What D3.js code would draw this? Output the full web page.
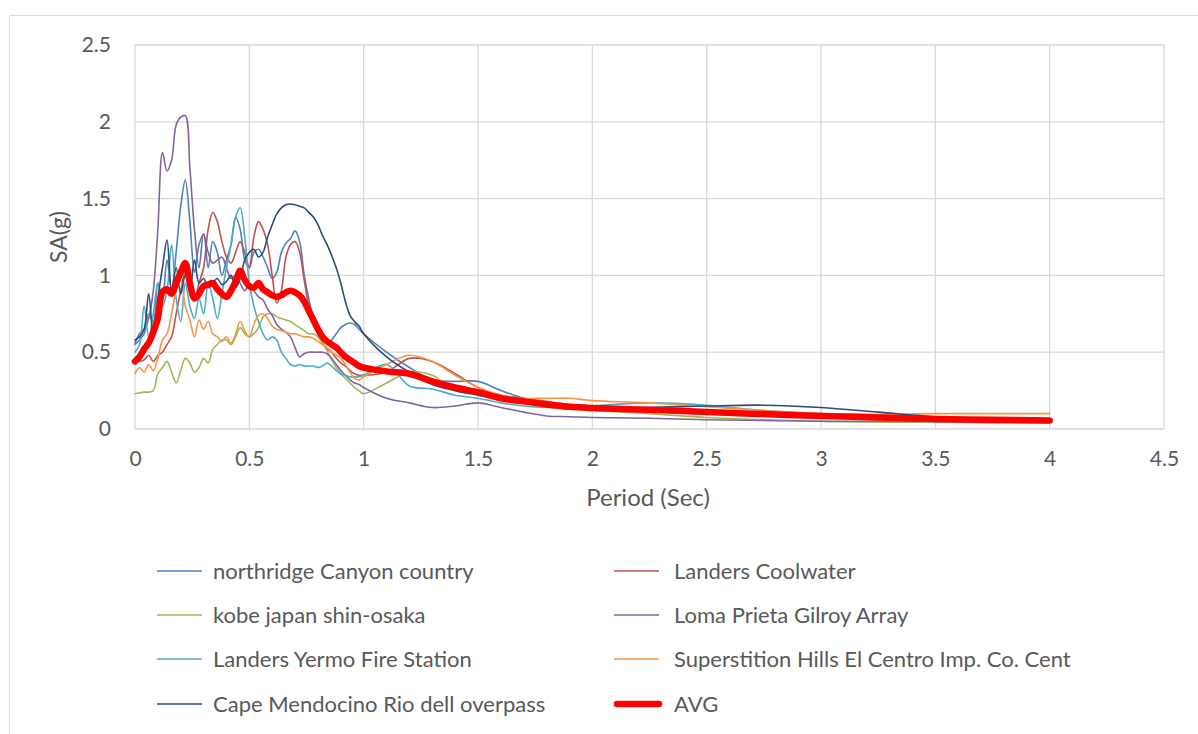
<!DOCTYPE html>
<html>
<head>
<meta charset="utf-8">
<script src="https://cdn.jsdelivr.net/npm/d3@7"></script>
<style>
  html, body { margin: 0; padding: 0; background: #fff; }
  svg { display: block; font-family: Lato, "Open Sans", sans-serif; }
</style>
</head>
<body>
<svg id="chart" width="1198" height="734"></svg>
<script>
// Spectral period (sec) at which each response value is sampled
const periods = [
  0, 0.02, 0.04, 0.06, 0.08, 0.10, 0.12, 0.14, 0.16, 0.18,
  0.20, 0.22, 0.24, 0.26, 0.28, 0.30, 0.32, 0.34, 0.36, 0.38,
  0.40, 0.42, 0.44, 0.46, 0.48, 0.50, 0.52, 0.54, 0.56, 0.58,
  0.60, 0.62, 0.64, 0.66, 0.68, 0.70, 0.72, 0.74, 0.76, 0.78,
  0.80, 0.82, 0.84, 0.86, 0.88, 0.90, 0.92, 0.94, 0.96, 0.98,
  1.00, 1.1, 1.2, 1.3, 1.4, 1.5, 1.6, 1.7, 1.8, 1.9,
  2.0, 2.25, 2.5, 2.75, 3.0, 3.25, 3.5, 3.75, 4.0
];

// Spectral acceleration SA (g) for each ground motion record
const northridge = [
  0.55, 0.58, 0.62, 0.75, 0.70, 0.95, 0.85, 1.10, 0.90, 1.15,
  1.45, 1.62, 1.35, 1.02, 1.20, 1.27, 1.05, 1.22, 1.15, 1.00,
  1.10, 1.20, 1.38, 1.30, 1.10, 1.05, 1.15, 1.17, 1.12, 1.05,
  0.98, 1.02, 1.15, 1.21, 1.24, 1.29, 1.22, 1.00, 0.85, 0.72,
  0.62, 0.58, 0.56, 0.58, 0.62, 0.66, 0.68, 0.69, 0.68, 0.65,
  0.62, 0.50, 0.40, 0.32, 0.31, 0.31, 0.25, 0.20, 0.17, 0.15,
  0.14, 0.12, 0.10, 0.09, 0.08, 0.07, 0.06, 0.055, 0.05
];
const landersCoolwater = [
  0.45, 0.44, 0.45, 0.48, 0.44, 0.48, 0.50, 0.55, 0.60, 0.75,
  0.90, 1.02, 0.95, 0.85, 0.95, 1.05, 1.30, 1.41, 1.35, 1.22,
  1.12, 1.08, 1.15, 1.22, 1.15, 1.05, 1.25, 1.35, 1.30, 1.20,
  1.00, 0.82, 0.90, 1.12, 1.20, 1.22, 1.15, 0.97, 0.80, 0.70,
  0.62, 0.56, 0.52, 0.50, 0.46, 0.43, 0.41, 0.38, 0.36, 0.35,
  0.35, 0.37, 0.46, 0.44, 0.36, 0.27, 0.22, 0.20, 0.18, 0.16,
  0.15, 0.13, 0.11, 0.09, 0.08, 0.07, 0.06, 0.055, 0.05
];
const kobe = [
  0.23, 0.235, 0.24, 0.24, 0.25, 0.36, 0.40, 0.44, 0.37, 0.30,
  0.38, 0.46, 0.43, 0.37, 0.40, 0.46, 0.43, 0.52, 0.55, 0.58,
  0.58, 0.55, 0.60, 0.66, 0.62, 0.60, 0.62, 0.66, 0.73, 0.75,
  0.75, 0.73, 0.72, 0.71, 0.70, 0.68, 0.66, 0.64, 0.62, 0.62,
  0.60, 0.56, 0.51, 0.45, 0.40, 0.36, 0.33, 0.30, 0.27, 0.25,
  0.23, 0.30, 0.37, 0.35, 0.25, 0.23, 0.21, 0.18, 0.15, 0.13,
  0.12, 0.10, 0.075, 0.06, 0.05, 0.045, 0.045, 0.04, 0.04
];
const lomaPrieta = [
  0.56, 0.62, 0.65, 0.72, 0.90, 1.30, 1.80, 1.68, 1.75, 1.98,
  2.03, 2.04, 1.70, 1.30, 1.05, 1.27, 1.15, 1.08, 1.10, 1.12,
  1.05, 0.98, 1.00, 0.95, 0.90, 0.95, 0.90, 0.86, 0.84, 0.78,
  0.74, 0.68, 0.65, 0.63, 0.60, 0.53, 0.47, 0.49, 0.50, 0.50,
  0.50, 0.50, 0.49, 0.46, 0.42, 0.38, 0.35, 0.32, 0.30, 0.29,
  0.27, 0.20, 0.17, 0.14, 0.15, 0.17, 0.14, 0.11, 0.085, 0.08,
  0.075, 0.07, 0.06, 0.055, 0.05, 0.05, 0.048, 0.045, 0.045
];
const landersYermo = [
  0.50, 0.55, 0.80, 0.60, 0.75, 0.95, 0.80, 0.90, 1.20, 0.85,
  0.70, 0.95, 0.80, 0.72, 0.85, 0.75, 0.95, 0.85, 0.72, 0.88,
  1.05, 1.20, 1.38, 1.44, 1.25, 0.95, 0.80, 0.70, 0.62, 0.58,
  0.60, 0.58, 0.50, 0.46, 0.42, 0.41, 0.42, 0.41, 0.41, 0.41,
  0.40, 0.41, 0.43, 0.41, 0.38, 0.36, 0.35, 0.34, 0.34, 0.34,
  0.35, 0.42, 0.28, 0.26, 0.22, 0.20, 0.17, 0.15, 0.14, 0.14,
  0.15, 0.17, 0.155, 0.12, 0.10, 0.08, 0.065, 0.06, 0.05
];
const superstitionHills = [
  0.36, 0.40, 0.37, 0.42, 0.38, 0.46, 0.58, 0.62, 0.75, 0.90,
  0.97, 0.80, 0.71, 0.60, 0.71, 0.65, 0.70, 0.62, 0.60, 0.57,
  0.60, 0.56, 0.62, 0.70, 0.64, 0.60, 0.68, 0.74, 0.75, 0.72,
  0.67, 0.65, 0.64, 0.63, 0.62, 0.62, 0.61, 0.60, 0.60, 0.59,
  0.57, 0.55, 0.53, 0.50, 0.48, 0.46, 0.42, 0.37, 0.33, 0.32,
  0.34, 0.42, 0.48, 0.44, 0.35, 0.27, 0.22, 0.20, 0.20, 0.20,
  0.185, 0.17, 0.145, 0.12, 0.10, 0.095, 0.10, 0.10, 0.10
];
const capeMendocino = [
  0.58, 0.60, 0.65, 0.88, 0.60, 0.85, 1.05, 1.23, 0.90, 1.05,
  0.88, 1.00, 0.90, 1.10, 0.95, 0.98, 0.92, 0.95, 0.98, 0.94,
  0.96, 1.00, 0.92, 0.98, 1.10, 1.15, 1.17, 1.12, 1.15, 1.25,
  1.33, 1.40, 1.44, 1.46, 1.465, 1.46, 1.45, 1.44, 1.41, 1.38,
  1.33, 1.26, 1.20, 1.13, 1.05, 0.95, 0.83, 0.74, 0.70, 0.67,
  0.62, 0.47, 0.37, 0.29, 0.25, 0.22, 0.19, 0.17, 0.16, 0.15,
  0.14, 0.14, 0.15, 0.155, 0.14, 0.11, 0.08, 0.065, 0.055
];
const average = [
  0.44, 0.47, 0.52, 0.56, 0.63, 0.72, 0.89, 0.91, 0.88, 0.95,
  1.02, 1.08, 0.95, 0.85, 0.88, 0.93, 0.94, 0.95, 0.91, 0.88,
  0.86, 0.90, 0.96, 1.03, 0.97, 0.93, 0.92, 0.95, 0.91, 0.89,
  0.87, 0.86, 0.87, 0.89, 0.90, 0.89, 0.87, 0.83, 0.77, 0.71,
  0.65, 0.60, 0.57, 0.55, 0.53, 0.50, 0.47, 0.45, 0.43, 0.41,
  0.40, 0.375, 0.36, 0.31, 0.27, 0.24, 0.20, 0.18, 0.16, 0.145,
  0.137, 0.125, 0.11, 0.097, 0.085, 0.075, 0.065, 0.06, 0.055
];

const seriesNames = [
  "northridge Canyon country", "Landers Coolwater",
  "kobe japan shin-osaka", "Loma Prieta Gilroy Array",
  "Landers Yermo Fire Station", "Superstition Hills El Centro Imp. Co. Cent",
  "Cape Mendocino Rio dell overpass", "AVG"
];
const seriesValues = [
  northridge, landersCoolwater, kobe, lomaPrieta,
  landersYermo, superstitionHills, capeMendocino, average
];
const seriesColors = [
  "#4F81BD", "#C0504D", "#9BBB59", "#8064A2",
  "#4BACC6", "#F79646", "#2C4D75", "#FF0000"
];
const xTicks = [0, 0.5, 1, 1.5, 2, 2.5, 3, 3.5, 4, 4.5];
const yTicks = [0, 0.5, 1, 1.5, 2, 2.5];

const svg = d3.select("#chart");
const W = 1198, H = 734;
const plot = { left: 135, top: 45, right: 1164, bottom: 429 };
const textColor = "#595959";

// Outer chart frame
svg.append("path")
  .attr("d", `M9.5,${H} V15.5 H${W}`)
  .attr("fill", "none").attr("stroke", "#d9d9d9").attr("stroke-width", 1);

const x = d3.scaleLinear().domain([0, 4.5]).range([plot.left, plot.right]);
const y = d3.scaleLinear().domain([0, 2.5]).range([plot.bottom, plot.top]);

// Gridlines
const grid = svg.append("g").attr("stroke", "#d9d9d9").attr("stroke-width", 1.3);
grid.selectAll("line.h").data(yTicks).join("line")
  .attr("x1", plot.left).attr("x2", plot.right)
  .attr("y1", d => y(d)).attr("y2", d => y(d));
grid.selectAll("line.v").data(xTicks).join("line")
  .attr("y1", plot.top).attr("y2", plot.bottom)
  .attr("x1", d => x(d)).attr("x2", d => x(d));

// Axes (labels only, lines come from the grid)
const xAxis = svg.append("g")
  .attr("transform", `translate(0,${plot.bottom})`)
  .call(d3.axisBottom(x).tickValues(xTicks).tickSize(0).tickPadding(22).tickFormat(d3.format("")));
const yAxis = svg.append("g")
  .attr("transform", `translate(${plot.left},0)`)
  .call(d3.axisLeft(y).tickValues(yTicks).tickSize(0).tickPadding(24).tickFormat(d3.format("")));
[xAxis, yAxis].forEach(g => {
  g.select(".domain").remove();
  g.selectAll("text").attr("font-size", 21).attr("fill", textColor)
    .attr("font-family", "Lato, 'Open Sans', sans-serif");
});

// Axis titles
svg.append("text")
  .attr("x", 648).attr("y", 506).attr("text-anchor", "middle")
  .attr("font-size", 24).attr("fill", textColor).text("Period (Sec)");
svg.append("text")
  .attr("transform", "translate(67,237) rotate(-90)").attr("text-anchor", "middle")
  .attr("font-size", 23).attr("fill", textColor).text("SA(g)");

// Response spectra
const line = d3.line()
  .x((d, i) => x(periods[i]))
  .y(d => y(d))
  .curve(d3.curveCatmullRom.alpha(0.5));

const lines = svg.append("g").attr("fill", "none");
seriesValues.forEach((vals, k) => {
  const isAvg = k === seriesValues.length - 1;
  lines.append("path")
    .attr("d", line(vals))
    .attr("stroke", seriesColors[k])
    .attr("stroke-width", isAvg ? 6.5 : 1.6)
    .attr("stroke-linejoin", "round")
    .attr("stroke-linecap", "round");
});

// Legend, two columns
const legendRows = [571, 615, 659, 704];
const legendCols = [157, 614];
const legendTextOffset = [56, 60];
const legend = svg.append("g");
seriesNames.forEach((name, k) => {
  const isAvg = k === seriesNames.length - 1;
  const col = k % 2;
  const cx = legendCols[col], cy = legendRows[Math.floor(k / 2)];
  legend.append("line")
    .attr("x1", cx + (isAvg ? 3 : 0)).attr("x2", cx + 45)
    .attr("y1", cy).attr("y2", cy)
    .attr("stroke", seriesColors[k])
    .attr("stroke-width", isAvg ? 6.5 : 1.6)
    .attr("stroke-linecap", isAvg ? "round" : "butt");
  legend.append("text")
    .attr("x", cx + legendTextOffset[col]).attr("y", cy).attr("dy", "0.35em")
    .attr("font-size", 22).attr("fill", textColor).text(name);
});
</script>
</body>
</html>
